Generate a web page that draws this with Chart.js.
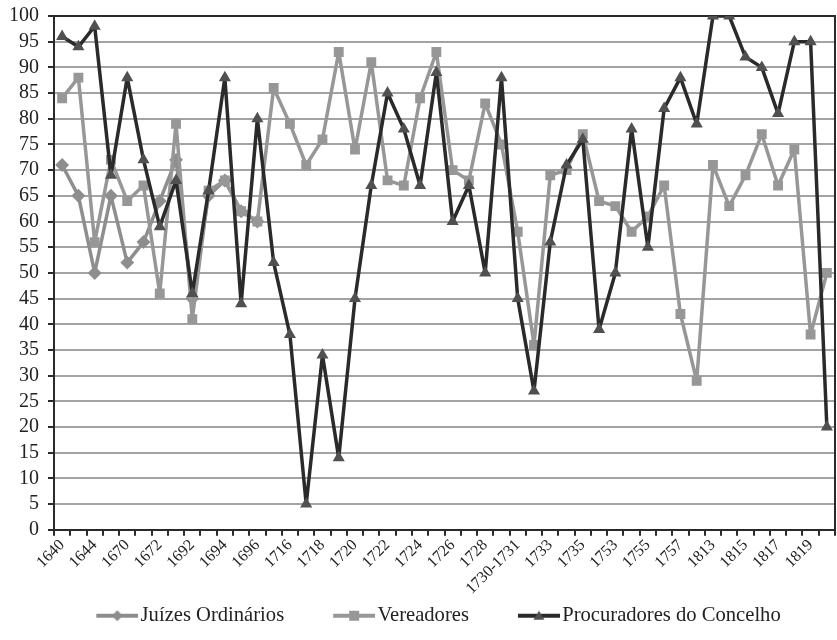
<!DOCTYPE html>
<html>
<head>
<meta charset="utf-8">
<script src="https://cdn.jsdelivr.net/npm/chart.js@4.4.1/dist/chart.umd.min.js"></script>
<style>
html,body{margin:0;padding:0;background:#fff;}
canvas{display:block;}
</style>
</head>
<body>
<canvas id="c" width="837" height="640"></canvas>
<script>
// ---- data ----
const categories = ["1640","1642","1644","1669","1670","1671","1672","1673","1692","1693","1694","1695","1696","1715","1716","1717","1718","1719","1720","1721","1722","1723","1724","1725","1726","1727","1728","1729","1730-1731","1732","1733","1734","1735","1736","1753","1754","1755","1756","1757","1812","1813","1814","1815","1816","1817","1818","1819","1820"];
const juizesOrdinarios = [71,65,50,65,52,56,64,72,45,65,68,62,60,null,null,null,null,null,null,null,null,null,null,null,null,null,null,null,null,null,null,null,null,null,null,null,null,null,null,null,null,null,null,null,null,null,null,null];
const vereadores = [84,88,56,72,64,67,46,79,41,66,68,62,60,86,79,71,76,93,74,91,68,67,84,93,70,68,83,75,58,36,69,70,77,64,63,58,61,67,42,29,71,63,69,77,67,74,38,50];
const procuradores = [96,94,98,69,88,72,59,68,46,66,88,44,80,52,38,5,34,14,45,67,85,78,67,89,60,67,50,88,45,27,56,71,76,39,50,78,55,82,88,79,100,100,92,90,81,95,95,20];
const seriesNames = ["Juízes Ordinários","Vereadores","Procuradores do Concelho"];
const yTicks = {min:0, max:100, step:5};

// ---- styles ----
const FONT = "'Liberation Serif', 'Times New Roman', serif";
const C_J = '#8e8e8e', C_V = '#979797', C_P = '#2a2a2a', C_PM = '#505050';
const ICON_BOX = 76;

function legendIcon(lineColor, markerColor, style){
  const W = ICON_BOX + 16, H = 14;
  const cv = document.createElement('canvas');
  cv.width = W; cv.height = H;
  const g = cv.getContext('2d');
  g.strokeStyle = lineColor; g.lineWidth = 4;
  g.beginPath(); g.moveTo(W - 42, H/2); g.lineTo(W, H/2); g.stroke();
  g.fillStyle = markerColor;
  const cx = W - 21, cy = H/2;
  g.beginPath();
  if (style === 'rectRot'){ g.moveTo(cx, cy-5.5); g.lineTo(cx+5.5, cy); g.lineTo(cx, cy+5.5); g.lineTo(cx-5.5, cy); }
  else if (style === 'rect'){ g.rect(cx-5, cy-5, 10, 10); }
  else { g.moveTo(cx, cy-5); g.lineTo(cx+5.5, cy+4); g.lineTo(cx-5.5, cy+4); }
  g.closePath(); g.fill();
  return cv;
}
const icons = [legendIcon(C_J, C_J, 'rectRot'), legendIcon(C_V, C_V, 'rect'), legendIcon(C_P, C_PM, 'triangle')];

const framePlugin = {
  id: 'frame',
  beforeDatasetsDraw(chart){
    const {ctx, chartArea:a} = chart;
    ctx.save();
    ctx.strokeStyle = '#2a2a2a'; ctx.lineWidth = 2;
    ctx.beginPath();
    ctx.moveTo(a.left, a.top); ctx.lineTo(a.right, a.top); ctx.lineTo(a.right, a.bottom);
    ctx.stroke();
    ctx.restore();
  }
};

new Chart(document.getElementById('c'), {
  type: 'line',
  data: {
    labels: categories,
    datasets: [
      {label: seriesNames[0], data: juizesOrdinarios, borderColor: C_J, backgroundColor: C_J, pointStyle: 'rectRot', pointRadius: 4.5, borderWidth: 3.5, tension: 0, order: 2, spanGaps: false},
      {label: seriesNames[1], data: vereadores, borderColor: C_V, backgroundColor: C_V, pointStyle: 'rect', pointRadius: 4.5, borderWidth: 3.5, tension: 0, order: 1},
      {label: seriesNames[2], data: procuradores, borderColor: C_P, backgroundColor: C_PM, pointBorderColor: C_PM, pointStyle: 'triangle', pointRadius: 3.5, borderWidth: 3.5, tension: 0, order: 0}
    ]
  },
  options: {
    responsive: false,
    animation: false,
    layout: {autoPadding: false, padding: {left: 0, right: 2, top: 16, bottom: 4}},
    elements: {
      point: {borderWidth: 1, hoverRadius: 5},
      line: {borderJoinStyle: 'round', borderCapStyle: 'round'}
    },
    scales: {
      x: {
        offset: true,
        afterFit(scale){ scale.paddingRight = 0; scale.paddingLeft = 0; },
        grid: {display: true, drawOnChartArea: false, drawTicks: true, tickLength: 6, offset: true, color: '#2a2a2a', lineWidth: 2},
        border: {display: true, color: '#2a2a2a', width: 2},
        ticks: {
          autoSkip: false, maxRotation: 45, minRotation: 45, padding: 0,
          color: '#222', font: {family: FONT, size: 16},
          callback: function(v, i){ return i % 2 === 0 ? this.getLabelForValue(v) : ''; }
        }
      },
      y: {
        min: yTicks.min, max: yTicks.max,
        afterFit(scale){ scale.paddingTop = 0; scale.paddingBottom = 0; },
        grid: {color: '#a3a3a3', lineWidth: 2, tickLength: 6, tickColor: '#2a2a2a'},
        border: {display: true, color: '#2a2a2a', width: 2},
        ticks: {stepSize: yTicks.step, autoSkip: false, padding: 9, color: '#222', font: {family: FONT, size: 20}}
      }
    },
    plugins: {
      tooltip: {enabled: false},
      legend: {
        position: 'bottom',
        labels: {
          usePointStyle: true, pointStyleWidth: ICON_BOX, padding: 7,
          color: '#222', font: {family: FONT, size: 20.6},
          sort: (a, b) => a.datasetIndex - b.datasetIndex,
          generateLabels(chart){
            const items = Chart.defaults.plugins.legend.labels.generateLabels(chart);
            items.forEach(it => { it.pointStyle = icons[it.datasetIndex]; });
            return items;
          }
        }
      }
    }
  },
  plugins: [framePlugin]
});
</script>
</body>
</html>
